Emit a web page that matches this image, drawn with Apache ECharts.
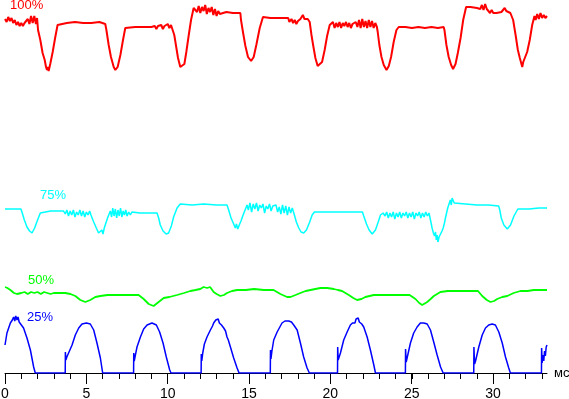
<!DOCTYPE html>
<html lang="ru">
<head>
    <meta charset="UTF-8">
    <title>Осциллограммы яркости</title>
    <script src="https://cdn.jsdelivr.net/npm/echarts@6/dist/echarts.min.js"></script>
    <style>
        html, body { margin: 0; padding: 0; background: #fff; }
        #chart { width: 569px; height: 399px; }
    </style>
</head>
<body>
<div id="chart"></div>
<script>
    // [время, мс ; уровень]
    var red100 = [
        [0,354],[0.1,351],[0.2,356],[0.3,352],[0.4,355],[0.5,350],[0.6,353],[0.7,348],[0.8,351],[0.9,347],
        [1.0,350],[1.1,347],[1.2,350],[1.3,348],[1.4,354],[1.5,349],[1.6,357],[1.7,350],[1.8,357],[1.9,349],[1.97,355],
        [2.03,343],[2.17,333],[2.31,320],[2.44,313],[2.52,306],[2.58,303],[2.63,306],[2.68,302],[2.78,309],[2.93,321],
        [3.09,336],[3.23,348],[3.3,350],[3.8,350],[4.3,351],[4.8,350],[5.3,350],[5.8,351],[6.16,349],
        [6.23,343],[6.37,328],[6.51,316],[6.68,306],[6.78,303],[6.92,306],[7.09,318],[7.25,333],[7.39,345],[7.45,346],
        [8.0,346],[8.5,346],[9.0,346],[9.2,347],[9.3,344],[9.4,347],[9.5,345],[9.6,348],[9.7,344],[9.8,347],
        [9.9,345],[10.0,349],[10.1,345],[10.2,348],[10.3,346],
        [10.4,338],[10.53,325],[10.63,315],[10.77,306],[10.88,304],[11.02,309],[11.14,321],[11.29,338],[11.43,353],[11.59,365],
        [11.7,366],[11.8,361],[11.9,367],[12.0,360],[12.1,366],[12.2,362],[12.3,368],[12.4,359],[12.5,365],[12.6,361],
        [12.7,366],[12.8,358],[12.9,364],[13.0,357],[13.1,362],[13.2,359],
        [13.3,360],[13.6,361],[14.0,360],[14.46,360],
        [14.5,353],[14.63,340],[14.77,327],[14.93,316],[15.12,312],[15.28,316],[15.44,328],[15.65,345],[15.85,356],
        [16.3,355],[16.9,355],[17.4,355],[17.47,351],[17.6,354],[17.7,350],[17.8,353],[17.9,349],[18.0,352],[18.1,350],
        [18.15,354],[18.3,358],[18.4,354],[18.6,354],
        [18.72,351],[18.83,338],[18.93,328],[19.07,315],[19.21,307],[19.32,305],[19.48,311],[19.64,323],[19.79,337],[19.95,348],
        [20.05,347],[20.15,351],[20.25,345],[20.35,350],[20.45,346],[20.55,351],[20.65,345],[20.75,350],[20.85,347],[20.95,351],
        [21.05,346],[21.15,350],[21.25,345],[21.35,349],[21.45,347],[21.55,351],[21.65,346],[21.75,353],[21.85,345],[21.95,354],
        [22.05,346],[22.15,352],[22.25,345],[22.35,353],[22.45,346],[22.55,352],[22.65,345],[22.75,350],[22.85,346],
        [22.9,341],[23.0,328],[23.13,316],[23.27,308],[23.44,303],[23.58,307],[23.72,316],[23.88,331],[24.05,343],[24.19,346],
        [24.6,346],[25.0,345],[25.4,346],[25.8,345],[26.2,346],[26.6,345],[26.95,346],
        [27.0,343],[27.12,328],[27.26,316],[27.41,308],[27.53,304],[27.68,309],[27.82,320],[27.99,335],[28.15,353],[28.33,366],
        [28.6,366],[29.0,365],[29.2,364],[29.3,368],[29.4,363],[29.5,369],[29.6,364],[29.7,362],[29.8,360],[29.9,363],
        [30.0,360],[30.1,362],[30.2,360],[30.3,361],[30.5,361],[30.6,363],[30.7,365],[30.8,362],[30.9,361],[31.05,360],[31.15,358],
        [31.22,353],[31.37,338],[31.51,323],[31.63,315],[31.73,309],[31.78,306],[31.84,311],[31.92,313],[32.08,321],[32.24,333],
        [32.39,348],[32.53,357],[32.6,353],[32.7,359],[32.8,354],[32.9,360],[33.0,355],[33.1,358],[33.2,355],[33.3,357]
    ];

    var cyan75 = [
        [0,164],[0.5,164],[0.98,164],[1.04,161],[1.19,153],[1.35,146],[1.51,142],[1.66,140],[1.82,145],[2.0,153],
        [2.17,160],[2.27,162],[2.8,162],[3.3,162],[3.6,162],
        [3.7,159],[3.8,163],[3.9,157],[4.0,162],[4.1,158],[4.2,163],[4.3,156],[4.4,161],[4.5,158],[4.6,163],
        [4.7,157],[4.8,162],[4.9,156],[5.0,161],[5.1,158],[5.2,162],
        [5.28,158],[5.45,151],[5.61,145],[5.75,140],[5.86,138],[5.95,143],[6.02,139],[6.1,145],[6.16,147],[6.3,155],[6.47,162],
        [6.55,156],[6.62,165],[6.7,157],[6.78,164],[6.86,155],[6.94,163],[7.02,157],[7.1,165],[7.18,156],[7.26,162],
        [7.34,158],[7.42,163],[7.5,157],[7.6,161],[7.7,158],[7.8,161],
        [8.3,160],[8.8,160],[9.34,160],
        [9.44,155],[9.54,148],[9.71,142],[9.9,139],[10.05,140],[10.22,147],[10.36,156],[10.57,165],[10.77,169],
        [11.5,168],[12.2,169],[13.0,168],[13.64,168],
        [13.74,163],[13.89,155],[14.05,149],[14.15,145],[14.22,149],[14.3,144],[14.42,149],[14.5,152],[14.63,158],[14.87,168],
        [14.95,163],[15.05,170],[15.15,161],[15.25,169],[15.35,164],[15.45,170],[15.55,162],[15.65,168],[15.75,165],[15.85,169],
        [15.95,160],[16.05,167],[16.15,164],[16.25,169],[16.35,162],[16.45,167],[16.55,165],[16.65,168],[16.75,161],[16.85,166],
        [16.95,159],[17.05,168],[17.15,160],[17.25,167],[17.35,158],[17.45,166],[17.55,160],[17.65,165],
        [17.78,158],[17.9,151],[18.05,145],[18.19,141],[18.35,140],[18.52,143],[18.72,151],[18.87,158],[19.01,161],
        [19.7,161],[20.5,161],[21.3,161],[21.96,161],
        [22.04,157],[22.21,149],[22.37,143],[22.56,139],[22.76,143],[22.93,151],[23.07,158],[23.23,160],
        [23.35,157],[23.45,161],[23.55,155],[23.65,160],[23.75,156],[23.85,161],[23.95,154],[24.05,160],[24.15,156],[24.25,161],
        [24.35,155],[24.45,160],[24.55,157],[24.65,161],[24.75,155],[24.85,160],[24.95,156],[25.05,161],[25.15,154],[25.25,160],
        [25.35,157],[25.45,161],[25.55,155],[25.65,160],[25.75,156],[25.85,161],[25.95,157],[26.05,160],
        [26.14,153],[26.24,145],[26.32,140],[26.39,137],[26.45,141],[26.5,133],[26.55,138],[26.6,131],[26.67,136],[26.75,138],
        [26.85,142],[26.92,145],[27.0,150],[27.06,155],[27.2,165],[27.3,170],[27.36,173],[27.42,168],[27.47,175],[27.51,174],
        [27.6,170],[27.68,169],[28.3,169],[29.0,168],[29.7,168],[30.33,167],
        [30.4,163],[30.49,155],[30.65,148],[30.86,144],[31.06,148],[31.27,157],[31.51,164],
        [32.2,164],[32.8,165],[33.3,165]
    ];

    var green50 = [
        [0,86],[0.15,85],[0.33,83],[0.55,80],[0.74,79],[1.0,80],[1.2,81],[1.4,79],[1.6,81],[1.8,80],
        [2.0,81],[2.2,79],[2.4,81],[2.6,80],[2.8,79],[3.0,80],[3.3,80],[3.7,80],[4.02,79],
        [4.32,77],[4.63,73],[4.94,71],[5.24,73],[5.55,76],[5.86,77],[6.3,78],[6.8,78],[7.3,78],[7.8,78],[8.21,78],
        [8.52,74],[8.83,69],[9.13,67],[9.44,71],[9.75,75],[10.1,76],[10.57,78],[11.0,80],[11.39,82],[11.7,83],
        [12.0,84],[12.2,86],[12.42,85],[12.6,86],[12.82,81],[13.0,79],[13.23,77],[13.45,78],[13.64,80],[13.95,82],
        [14.26,83],[14.8,83],[15.3,84],[15.9,83],[16.5,83],
        [16.92,79],[17.33,76],[17.54,76],[17.85,78],[18.15,80],[18.47,82],[18.77,83],[19.07,84],[19.38,85],[19.8,85],
        [20.2,84],[20.45,83],[20.71,82],[21.12,78],[21.4,75],[21.63,73],[21.9,74],[22.14,76],[22.4,77],[22.66,78],
        [23.2,78],[23.8,78],[24.4,78],[24.86,78],
        [25.22,74],[25.45,70],[25.63,68],[25.94,71],[26.15,74],[26.35,77],[26.75,81],[27.2,82],[27.8,82],[28.4,82],[29.06,82],
        [29.32,77],[29.6,73],[29.83,71],[30.05,72],[30.24,74],[30.55,76],[30.86,77],[31.25,80],[31.67,82],[32.1,82],
        [32.49,83],[32.9,83],[33.3,83]
    ];

    var blue25 = [
        [0,28],[0.12,40],[0.33,50],[0.45,53],[0.53,56],[0.6,52],[0.66,57],[0.74,53],[0.8,56],[0.87,51],
        [0.94,52],[1.14,45],[1.35,35],[1.56,23],[1.76,6],[1.86,0],
        [3.7,0],[3.71,21],[3.74,13],[3.8,16],[3.91,18],[4.12,28],[4.32,38],[4.53,45],[4.73,49],[5.0,50],
        [5.24,49],[5.45,43],[5.65,30],[5.86,15],[6.0,0],
        [7.9,0],[7.91,20],[7.94,12],[8.0,17],[8.11,26],[8.32,36],[8.52,44],[8.73,48],[9.03,50],[9.3,48],
        [9.5,41],[9.71,30],[9.91,16],[10.12,3],[10.2,0],
        [12.05,0],[12.06,19],[12.09,12],[12.15,20],[12.25,29],[12.41,36],[12.62,43],[12.75,47],[12.82,50],[12.9,48],
        [12.95,53],[13.03,51],[13.1,54],[13.17,50],[13.23,52],[13.3,48],[13.38,49],[13.44,45],[13.55,42],[13.64,36],
        [13.72,33],[13.85,26],[14.05,15],[14.26,5],[14.38,0],
        [16.3,0],[16.31,23],[16.34,14],[16.4,22],[16.51,33],[16.72,41],[17.02,50],[17.2,52],[17.43,52],[17.6,51],
        [17.74,48],[17.95,43],[18.15,30],[18.35,16],[18.56,5],[18.7,0],
        [20.43,0],[20.44,26],[20.47,13],[20.52,15],[20.61,20],[20.81,33],[21.02,41],[21.22,48],[21.35,50],[21.43,52],
        [21.5,50],[21.57,54],[21.63,52],[21.7,55],[21.77,51],[21.84,53],[21.92,49],[22.04,46],[22.25,36],[22.45,23],
        [22.66,8],[22.76,0],
        [24.6,0],[24.61,24],[24.65,11],[24.71,13],[24.91,30],[25.11,40],[25.32,46],[25.52,50],[25.73,50],[25.94,49],
        [26.14,43],[26.34,31],[26.55,18],[26.76,6],[26.92,0],
        [28.8,0],[28.81,26],[28.85,9],[28.91,12],[29.11,26],[29.32,38],[29.52,45],[29.72,48],[29.93,49],[30.13,48],
        [30.34,41],[30.55,30],[30.75,16],[30.95,5],[31.05,0],
        [32.96,0],[32.97,25],[33.0,10],[33.05,18],[33.1,12],[33.15,22],[33.2,17],[33.25,26],[33.3,28]
    ];

    var tickLabels = ['0', '5', '10', '15', '20', '25', '30'];
    var traceNames = ['100%', '75%', '50%', '25%'];
    var traceColors = ['#ff0000', '#00ffff', '#00ff00', '#0000ff'];

    var font = '"Liberation Sans", Arial, sans-serif';
    var chart = echarts.init(document.getElementById('chart'), null, {renderer: 'canvas'});

    function trace(data, color, width) {
        return {
            type: 'line',
            xAxisIndex: 0,
            yAxisIndex: 0,
            data: data,
            showSymbol: false,
            symbol: 'none',
            animation: false,
            silent: true,
            lineStyle: {color: color, width: width}
        };
    }

    // подписи кривых
    var labelPos = [[10, 5.5], [40, 195], [28, 280], [27, 317]];
    var graphics = traceNames.map(function (name, i) {
        return {
            type: 'text',
            x: labelPos[i][0],
            y: labelPos[i][1],
            silent: true,
            style: {
                text: name,
                fill: traceColors[i],
                font: '13px ' + font,
                verticalAlign: 'middle'
            }
        };
    });

    chart.setOption({
        backgroundColor: '#fff',
        animation: false,
        grid: [
            {left: 5, width: 542, top: 0, bottom: 26, outerBoundsMode: 'none'},
            {left: 5, width: 537, top: 0, bottom: 26, outerBoundsMode: 'none'},
            {left: 5, width: 488, top: 0, bottom: 26, outerBoundsMode: 'none'}
        ],
        xAxis: [
            {
                type: 'value', gridIndex: 0, min: 0, max: 33.3,
                axisLine: {lineStyle: {color: '#000', width: 1}},
                axisTick: {show: false},
                axisLabel: {show: false},
                splitLine: {show: false},
                name: 'мс',
                nameLocation: 'end',
                nameGap: 7,
                nameTextStyle: {color: '#000', fontSize: 13, fontFamily: font, padding: [4, 0, 0, 0]}
            },
            {
                type: 'value', gridIndex: 1, min: 0, max: 33, interval: 1,
                axisLine: {show: false},
                axisTick: {length: 6, lineStyle: {color: '#000', width: 1}},
                axisLabel: {show: false},
                splitLine: {show: false}
            },
            {
                type: 'value', gridIndex: 2, min: 0, max: 30, interval: 5,
                axisLine: {show: false},
                axisTick: {length: 11, lineStyle: {color: '#000', width: 1}},
                axisLabel: {
                    margin: 14, color: '#000', fontSize: 14, fontFamily: font,
                    formatter: function (v) { return tickLabels[Math.round(v / 5)]; }
                },
                splitLine: {show: false}
            }
        ],
        yAxis: [
            {type: 'value', gridIndex: 0, min: 0, max: 373, show: false},
            {type: 'value', gridIndex: 1, min: 0, max: 1, show: false},
            {type: 'value', gridIndex: 2, min: 0, max: 1, show: false}
        ],
        series: [
            trace(red100, traceColors[0], 2),
            trace(cyan75, traceColors[1], 1.5),
            trace(green50, traceColors[2], 1.8),
            trace(blue25, traceColors[3], 1.5)
        ],
        graphic: graphics
    });
</script>
</body>
</html>
